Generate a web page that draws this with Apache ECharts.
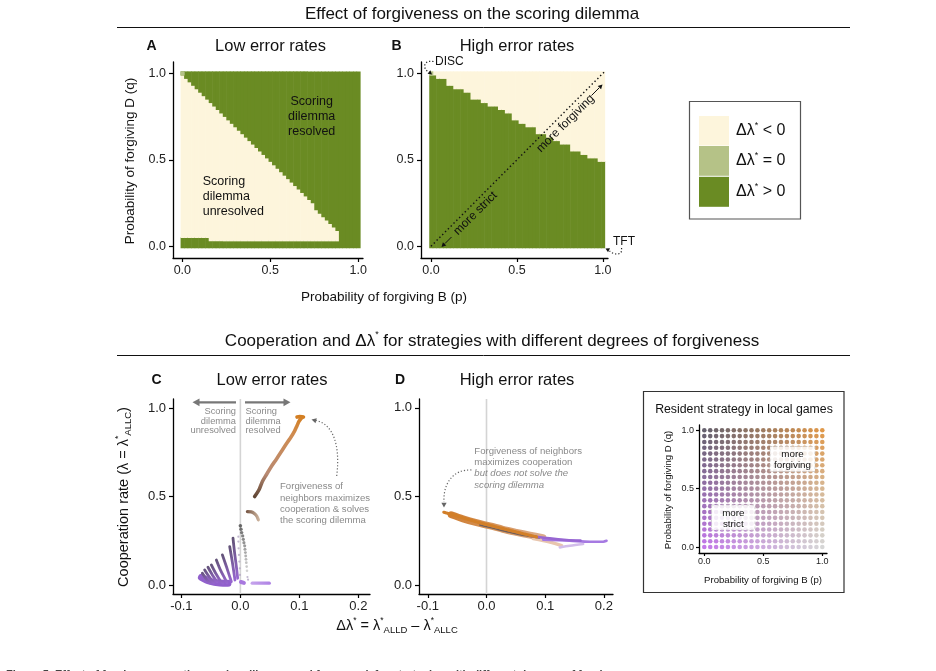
<!DOCTYPE html>
<html>
<head>
<meta charset="utf-8">
<script src="https://cdn.jsdelivr.net/npm/echarts@6/dist/echarts.min.js"></script>
<style>
html,body{margin:0;padding:0;background:#fff;}
#chart{width:936px;height:671px;}
</style>
</head>
<body>
<div id="chart"></div>
<script>
var FONT = '"Liberation Sans", Arial, Helvetica, sans-serif';

// ---- panels A / B : grid of strategies (p, q), step 0.02 ----
var cellStep = 0.02;
// A (low error): cream band between these two row indices, per p column (-1 = none)
var creamLowA = [3,3,3,3,3,3,3,3, 2,2,2,2,2,2,2,2,2,2,2,2,2,2,2,2,2,2,2,2,2,2,2,2,2,2,2,2,2,2,2,2,2,2,2,2,2, -1,-1,-1,-1,-1,-1];
var creamTopA = [49,48,47,46,45,44,43,42,41,40,39,38,37,36,35,34,33,32,31,30,29,28,27,26,25,24,23,22,21,20,19,18,17,16,15,14,13,12,
                 10,9,8,7,6,5,4, -1,-1,-1,-1,-1,-1];
// B (high error): highest green row per p column, cream above it
var greenTopB = [49,49, 48,48,48, 46,46, 45,45,45, 44,44, 42,42,42, 41,41, 40,40,40, 39,39, 38,38, 36,36, 35,35,
                 34,34,34, 32,32,32, 31,31, 30,30, 29,29,29, 27,27,27, 26,26, 25,25,25, 24,24];
var cellColors = ['#fdf5dc', '#b5c287', '#6a8b23'];

// ---- panel C (low error): Δλ*, λ ----
var fanC = [
  [[-0.0125,0.264],[-0.0097,0.179],[-0.0068,0.104],[-0.0046,0.038]],
  [[-0.0181,0.217],[-0.0142,0.141],[-0.0108,0.066],[-0.0092,0.028]],
  [[-0.0305,0.170],[-0.0237,0.104],[-0.0181,0.047],[-0.0153,0.019]],
  [[-0.0407,0.141],[-0.0339,0.085],[-0.0266,0.038],[-0.0227,0.013]],
  [[-0.0492,0.113],[-0.0419,0.066],[-0.0339,0.024],[-0.0295,0.010]],
  [[-0.0549,0.100],[-0.0475,0.057],[-0.0397,0.019]],
  [[-0.0605,0.085],[-0.0532,0.047],[-0.0453,0.013]],
  [[-0.0644,0.066],[-0.0576,0.032],[-0.0508,0.010]]
];
var fanBaseC = [[-0.066,0.043],[-0.052,0.021],[-0.035,0.011],[-0.021,0.010]];
var grayColC = [[0.000,0.334],[0.001,0.315],[0.0022,0.296],[0.0039,0.277],[0.005,0.258],[0.006,0.239],[0.0073,0.221],
                [0.0078,0.202],[0.0085,0.183],[0.009,0.164],[0.0095,0.145],[0.010,0.126],[0.0107,0.104],[0.0112,0.081]];
var faintColC = [[-0.0034,0.273],[-0.0034,0.245],[-0.003,0.207],[-0.0024,0.170],[-0.0017,0.132],[-0.001,0.094],[-0.0007,0.057],[0.012,0.045],[0.013,0.03]];
var arcC = [[0.0119,0.415],[0.0186,0.413],[0.0242,0.402],[0.0282,0.387],[0.0305,0.368]];
var curveC = [[0.0242,0.500],[0.0316,0.538],[0.0373,0.585],[0.044,0.623],[0.0525,0.670],[0.061,0.711],[0.0695,0.754],
              [0.078,0.798],[0.0864,0.839],[0.092,0.871],[0.096,0.900],[0.0993,0.924],[0.1034,0.943],[0.107,0.949],[0.1005,0.952],[0.096,0.949]];
var lowDotC = [[0.001,0.017],[0.006,0.012]];
var lowBarC = [[0.020,0.010],[0.049,0.010]];

// ---- panel D (high error) ----
var upperD = [[-0.0727,0.411],[-0.0625,0.402],[-0.0511,0.391],[-0.0398,0.379],[-0.0284,0.368],[-0.017,0.357],[-0.0058,0.347],
              [0.0056,0.338],[0.017,0.328],[0.0283,0.319],[0.0397,0.309],[0.0511,0.300],[0.0624,0.290],[0.0738,0.281],[0.0852,0.272]];
var bandD = [[-0.060,0.397],[-0.040,0.374],[-0.017,0.352],[0.006,0.334],[0.028,0.315],[0.051,0.298],[0.074,0.282],[0.096,0.268]];
var darkD = [[-0.0115,0.339],[0.017,0.316],[0.040,0.298],[0.068,0.278],[0.090,0.266]];
var peachD = [[0.0795,0.262],[0.108,0.243],[0.128,0.223]];
var purple1D = [[0.0738,0.279],[0.1079,0.264],[0.1363,0.255],[0.1601,0.251]];
var purple2D = [[0.0965,0.257],[0.1419,0.251],[0.176,0.245],[0.1988,0.245],[0.2045,0.250]];
var lavD = [[0.1249,0.213],[0.142,0.222],[0.1646,0.232]];

// ---- inset: resident strategies ----
var pVals = [0,0.05,0.1,0.15,0.2,0.25,0.3,0.35,0.4,0.45,0.5,0.55,0.6,0.65,0.7,0.75,0.8,0.85,0.9,0.95,1];
var qVals = [0,0.05,0.1,0.15,0.2,0.25,0.3,0.35,0.4,0.45,0.5,0.55,0.6,0.65,0.7,0.75,0.8,0.85,0.9,0.95,1];
var tickAB = [0,0.5,1];
var tickCD = [-0.1,0,0.1,0.2];

function mix(a,b,t){ return [a[0]+(b[0]-a[0])*t, a[1]+(b[1]-a[1])*t, a[2]+(b[2]-a[2])*t]; }
function rgb(c){ return 'rgb('+Math.round(c[0])+','+Math.round(c[1])+','+Math.round(c[2])+')'; }
// corner colours of the strategy palette
var C00=[180,86,228], C10=[204,204,204], C01=[62,54,74], C11=[216,126,28];
function stratColor(p,q){
  var c = mix(mix(C00,C10,p), mix(C01,C11,p), q);
  var lum = (c[0]+c[1]+c[2])/3;
  var w = (1-Math.abs(p+q-1))*0.22;
  return rgb(mix(c,[lum,lum,lum],w));
}

function buildCellsA(){
  var out=[];
  for (var i=0;i<creamTopA.length;i++){
    var p=i*cellStep, top=creamTopA[i], low=creamLowA[i];
    if (top<0){ out.push([p,0,1,2]); continue; }
    out.push([p,0,(low-1)*cellStep,2]);
    out.push([p,low*cellStep,top*cellStep,0]);
    if (top<50) out.push([p,(top+1)*cellStep,1,2]);
  }
  out.push([0,1,1,1]);
  return out;
}
function buildCellsB(){
  var out=[];
  for (var i=0;i<greenTopB.length;i++){
    var p=i*cellStep, g=greenTopB[i];
    out.push([p,0,g*cellStep,2]);
    if (g<50) out.push([p,(g+1)*cellStep,1,0]);
  }
  out.push([0,1,1,1]);
  return out;
}
function renderCell(params, api){
  var p=api.value(0), q0=api.value(1), q1=api.value(2);
  var a=api.coord([p-cellStep/2, q1+cellStep/2]);
  var b=api.coord([p+cellStep/2, q0-cellStep/2]);
  return {type:'rect', shape:{x:a[0], y:a[1]-0.3, width:b[0]-a[0]+0.6, height:b[1]-a[1]+0.6},
          style:{fill:cellColors[api.value(3)]}};
}

var insetData=[];
qVals.forEach(function(q){ pVals.forEach(function(p){ insetData.push([p,q]); }); });

function axis(gi,min,max,ticks,fs,margin){
  return {type:'value', gridIndex:gi, min:min, max:max,
    axisLine:{show:true,onZero:false,lineStyle:{color:'#000',width:1.3}},
    axisTick:{show:true,customValues:ticks,length:fs>10?4:3,lineStyle:{color:'#000',width:1.2}},
    axisLabel:{customValues:ticks,formatter:function(v){return v.toFixed(1);},color:'#222',fontSize:fs,fontFamily:FONT,margin:margin},
    splitLine:{show:false}};
}
function grad(c0,c1,vertical){
  return vertical ? new echarts.graphic.LinearGradient(0,1,0,0,[{offset:0,color:c0},{offset:1,color:c1}])
                  : new echarts.graphic.LinearGradient(0,0,1,0,[{offset:0,color:c0},{offset:1,color:c1}]);
}
function stroke(xi,data,color,width,extra){
  var s={type:'line', xAxisIndex:xi, yAxisIndex:xi, data:data, symbol:'none', smooth:0.3, silent:true, animation:false,
    lineStyle:{color:color,width:width,cap:'round',join:'round'}, z:3};
  if (extra) for (var k in extra) s.lineStyle[k]=extra[k];
  return s;
}

var series=[];
series.push({type:'custom',xAxisIndex:0,yAxisIndex:0,renderItem:renderCell,data:buildCellsA(),encode:{x:0,y:[1,2]},silent:true,animation:false});
series.push({type:'custom',xAxisIndex:1,yAxisIndex:1,renderItem:renderCell,data:buildCellsB(),encode:{x:0,y:[1,2]},silent:true,animation:false});
series.push({type:'line',xAxisIndex:1,yAxisIndex:1,data:[[0,0],[1.01,1.01]],symbol:'none',silent:true,animation:false,
  lineStyle:{color:'#111',width:1.4,type:[1.4,2.6]},z:5});
// zero lines
series.push({type:'line',xAxisIndex:2,yAxisIndex:2,data:[[0,-0.051],[0,1.051]],symbol:'none',silent:true,animation:false,lineStyle:{color:'#d4d4d4',width:1.6},z:1});
series.push({type:'line',xAxisIndex:3,yAxisIndex:3,data:[[0,-0.05],[0,1.05]],symbol:'none',silent:true,animation:false,lineStyle:{color:'#d4d4d4',width:1.6},z:1});
// panel C
series.push(stroke(2,fanBaseC,'#9160cc',7));
fanC.forEach(function(f){ series.push(stroke(2,f,grad('#9b68d6','#5f5272',true),2.8)); });
series.push({type:'scatter',xAxisIndex:2,yAxisIndex:2,data:faintColC,symbolSize:2.2,silent:true,animation:false,itemStyle:{color:'#b3a6c4'},z:3});
series.push({type:'scatter',xAxisIndex:2,yAxisIndex:2,data:grayColC,silent:true,animation:false,z:4,
  symbolSize:function(v){return 2.2+v[1]*4;},
  itemStyle:{color:function(pr){var t=(pr.value[1]-0.08)/0.254;return rgb(mix([200,200,200],[72,72,72],Math.max(0,Math.min(1,t))));}}});
series.push(stroke(2,arcC,grad('#6b4a39','#d9c1aa',false),3.2));
series.push(stroke(2,curveC,new echarts.graphic.LinearGradient(0,1,0,0,[{offset:0,color:'#58402f'},{offset:0.3,color:'#b98a72'},{offset:0.75,color:'#cf8c52'},{offset:1,color:'#d47d1c'}]),3.6));
series.push(stroke(2,lowDotC,'#a878de',4));
series.push(stroke(2,lowBarC,grad('#c7a6ec','#ad80e4',false),3.2));
// panel D
series.push(stroke(3,bandD,grad('#cf7d30','#dcae8e',false),7));
series.push(stroke(3,peachD,'#e8c6ae',3.4));
series.push(stroke(3,darkD,'#6f5e5a',1.5));
series.push(stroke(3,lavD,'#d2bdea',2.6));
series.push(stroke(3,purple2D,'#a67ae2',2.6));
series.push(stroke(3,purple1D,'#9766d2',2.6));
series.push(stroke(3,upperD,'#d27f28',3.2,{type:[2,1.5]}));
// inset
series.push({type:'scatter',xAxisIndex:4,yAxisIndex:4,data:insetData,symbolSize:4.6,silent:true,animation:false,
  itemStyle:{color:function(pr){return stratColor(pr.value[0],pr.value[1]);}}});

// ---- annotations ----
function T(x,y,text,fs,o){
  var st={text:text,fontSize:fs,fontFamily:FONT,fill:'#111',align:'center',verticalAlign:'middle'};
  var rot=0;
  if (o){ for (var k in o){ if(k==='rotation') rot=o[k]; else st[k]=o[k]; } }
  return {type:'text',x:x,y:y,rotation:rot,style:st,z:100,silent:true};
}
function L(x1,y1,x2,y2,color,w,dash){
  return {type:'line',shape:{x1:x1,y1:y1,x2:x2,y2:y2},style:{stroke:color,lineWidth:w,lineDash:dash||null},z:100,silent:true};
}
function head(x,y,ang,size,color){
  var a1=ang+Math.PI*0.84, a2=ang-Math.PI*0.84;
  return {type:'polygon',shape:{points:[[x,y],[x+size*Math.cos(a1),y+size*Math.sin(a1)],[x+size*Math.cos(a2),y+size*Math.sin(a2)]]},style:{fill:color},z:100,silent:true};
}
function curve(x1,y1,c1x,c1y,c2x,c2y,x2,y2,color){
  return {type:'bezierCurve',shape:{x1:x1,y1:y1,cpx1:c1x,cpy1:c1y,cpx2:c2x,cpy2:c2y,x2:x2,y2:y2},
    style:{stroke:color,lineWidth:1.2,lineDash:[1.2,2],fill:null},z:100,silent:true};
}
var supRich = {
  a:{fontSize:16,fontFamily:FONT,fill:'#111',lineHeight:20},
  s:{fontSize:9,fontFamily:FONT,fill:'#111',lineHeight:11,verticalAlign:'top'}
};
var axRich = {
  a:{fontSize:14.5,fontFamily:FONT,fill:'#111',lineHeight:19},
  s:{fontSize:8.5,fontFamily:FONT,fill:'#111',lineHeight:10,verticalAlign:'top'},
  b:{fontSize:9.5,fontFamily:FONT,fill:'#111',lineHeight:10,verticalAlign:'bottom'}
};
var titleRich = {
  a:{fontSize:17,fontFamily:FONT,fill:'#111',lineHeight:21},
  s:{fontSize:9,fontFamily:FONT,fill:'#111',lineHeight:11,verticalAlign:'top'}
};
var grayTxt = '#8a8a8a';

var graphics = [
  T(472,14,'Effect of forgiveness on the scoring dilemma',17),
  L(117,27.5,850,27.5,'#111',1),
  T(151.5,46,'A',14,{fontWeight:'bold'}),
  T(270.5,46,'Low error rates',16.5),
  T(396.5,46,'B',14,{fontWeight:'bold'}),
  T(517,46,'High error rates',16.5),
  T(130,161,'Probability of forgiving D (q)',13.5,{rotation:Math.PI/2}),
  T(384,297,'Probability of forgiving B (p)',13.5),
  T(311.7,116.7,'Scoring\ndilemma\nresolved',12.5,{lineHeight:15}),
  T(202.7,196.7,'Scoring\ndilemma\nunresolved',12.5,{lineHeight:15,align:'left'}),
  // B annotations
  T(565.5,123.5,'more forgiving',12,{rotation:Math.PI/4}),
  L(591.5,95.5,599,88,'#111',1), head(602.5,84.5,-Math.PI/4,5,'#111'),
  T(475.5,213.3,'more strict',12,{rotation:Math.PI/4}),
  L(451.5,237,445,243.5,'#111',1), head(441.5,247,Math.PI*3/4,5,'#111'),
  T(435,62,'DISC',12,{align:'left'}),
  curve(433.5,61.5,423.5,59.5,422.5,68.5,428,71.5,'#222'), head(432,74.5,Math.PI*0.22,4.5,'#111'),
  T(613,241.5,'TFT',12,{align:'left'}),
  curve(621.5,248,623,256,614,255,609.5,251,'#222'), head(605.5,248.5,-Math.PI*0.85,4.5,'#111'),
  // legend
  {type:'rect',shape:{x:689.5,y:101.5,width:111,height:117.5},style:{fill:'#fff',stroke:'#555',lineWidth:1.2},z:90,silent:true},
  {type:'rect',shape:{x:699,y:116,width:30,height:29.5},style:{fill:cellColors[0]},z:100,silent:true},
  {type:'rect',shape:{x:699,y:146,width:30,height:29.8},style:{fill:cellColors[1]},z:100,silent:true},
  {type:'rect',shape:{x:699,y:176.8,width:30,height:30},style:{fill:cellColors[2]},z:100,silent:true},
  T(736,131,'{a|Δλ}{s|*}{a| < 0}',16,{align:'left',rich:supRich}),
  T(736,161,'{a|Δλ}{s|*}{a| = 0}',16,{align:'left',rich:supRich}),
  T(736,191.8,'{a|Δλ}{s|*}{a| > 0}',16,{align:'left',rich:supRich}),
  // lower section
  T(492,341,'{a|Cooperation and Δλ}{s|*}{a| for strategies with different degrees of forgiveness}',17,{rich:titleRich}),
  L(117,355.5,850,355.5,'#111',1),
  T(156.5,380,'C',14,{fontWeight:'bold'}),
  T(272,380,'Low error rates',16.5),
  T(400,380,'D',14,{fontWeight:'bold'}),
  T(517,380,'High error rates',16.5),
  T(124,497,'{a|Cooperation rate (λ = λ}{s|*}{b|ALLC}{a|)}',14.5,{rotation:Math.PI/2,rich:axRich}),
  T(397,626,'{a|Δλ}{s|*}{a| = λ}{s|*}{b|ALLD}{a| – λ}{s|*}{b|ALLC}',14.5,{rich:axRich}),
  // C annotations
  L(236,402.3,198,402.3,'#777',2.2), head(192.5,402.3,Math.PI,8,'#777'),
  L(245,402.3,285,402.3,'#777',2.2), head(290.5,402.3,0,8,'#777'),
  T(236,421.3,'Scoring\ndilemma\nunresolved',9.3,{align:'right',lineHeight:9.6,fill:grayTxt}),
  T(245.5,421.3,'Scoring\ndilemma\nresolved',9.3,{align:'left',lineHeight:9.6,fill:grayTxt}),
  T(280,503.7,'Forgiveness of\nneighbors maximizes\ncooperation & solves\nthe scoring dilemma',9.6,{align:'left',lineHeight:11.3,fill:grayTxt}),
  curve(336.7,476,340.5,445,333,424,316,420.5,'#666'), head(311.5,419.5,Math.PI*1.08,5.5,'#666'),
  // D annotations
  T(474.3,468,'{n|Forgiveness of neighbors}\n{n|maximizes cooperation}\n{i|but does not solve the}\n{i|scoring dilemma}',9.6,
    {align:'left',lineHeight:11.3,fill:grayTxt,rich:{n:{fontSize:9.6,fontFamily:FONT,fill:grayTxt,lineHeight:11.3},
      i:{fontSize:9.6,fontFamily:FONT,fill:grayTxt,lineHeight:11.3,fontStyle:'italic'}}}),
  curve(471.5,470,452,469,443,485,444,502,'#666'), head(444,507.5,Math.PI/2,5.5,'#666'),
  // inset
  {type:'rect',shape:{x:643.5,y:391.5,width:200.5,height:201},style:{fill:null,stroke:'#333',lineWidth:1.2},z:90,silent:true},
  T(744,409.5,'Resident strategy in local games',12.3),
  T(668.3,490,'Probability of forgiving D (q)',9.6,{rotation:Math.PI/2}),
  T(763,580.8,'Probability of forgiving B (p)',9.6),
  {type:'rect',shape:{x:770,y:446.5,width:45,height:25},style:{fill:'rgba(255,255,255,0.85)',stroke:'#c8c8c8',lineWidth:0.8,lineDash:[2.5,2.5]},z:99,silent:true},
  T(792.5,459.5,'more\nforgiving',9.8,{lineHeight:11}),
  {type:'rect',shape:{x:711.5,y:505,width:43.5,height:25},style:{fill:'rgba(255,255,255,0.85)',stroke:'#c8c8c8',lineWidth:0.8,lineDash:[2.5,2.5]},z:99,silent:true},
  T(733.3,518.5,'more\nstrict',9.8,{lineHeight:11}),
  // caption (cut off at the bottom edge)
  T(6,669,'Figure 5. Effect of forgiveness on the scoring dilemma and framework for strategies with different degrees of forgiveness.',11,
    {align:'left',verticalAlign:'top',fontWeight:'bold',fill:'#444'})
];

var chart = echarts.init(document.getElementById('chart'));
chart.setOption({
  animation:false,
  backgroundColor:'#fff',
  grid:[
    {left:173,top:62,width:190,height:196},
    {left:421,top:62,width:187,height:196},
    {left:173,top:399,width:197,height:195},
    {left:419,top:399,width:194,height:195},
    {left:699,top:425,width:128,height:128}
  ],
  xAxis:[
    axis(0,-0.053,1.027,tickAB,12.5,6),
    axis(1,-0.058,1.03,tickAB,12.5,6),
    axis(2,-0.1142,0.2197,tickCD,13,6),
    axis(3,-0.115,0.2155,tickCD,13,6),
    axis(4,-0.045,1.04,tickAB,9,4)
  ],
  yAxis:[
    axis(0,-0.068,1.066,tickAB,12.5,7),
    axis(1,-0.068,1.066,tickAB,12.5,7),
    axis(2,-0.051,1.051,tickAB,13,7),
    axis(3,-0.05,1.05,tickAB,13,7),
    axis(4,-0.051,1.045,tickAB,9,5)
  ],
  series:series,
  graphic:graphics
});
</script>
</body>
</html>
